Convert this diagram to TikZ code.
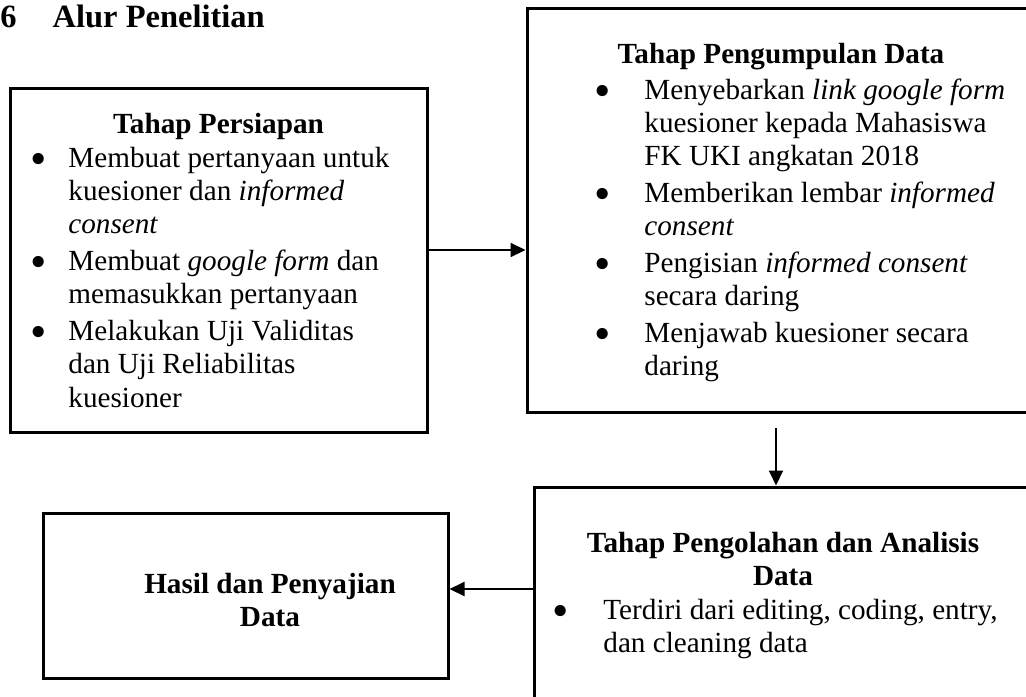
\documentclass[tikz,border=0pt]{standalone}
\usepackage{fontspec}
\setmainfont{Liberation Serif}
\usetikzlibrary{arrows.meta}
\usetikzlibrary{positioning}

\newcommand{\bodysize}{\fontsize{14.6pt}{16.65pt}\selectfont}
\newcommand{\bul}{\hspace{-1.5pt}\raisebox{-3.6pt}{\scalebox{1.6}{\textbullet}}}

\begin{document}
\begin{tikzpicture}[x=0.5pt,y=-0.5pt,
    stage box/.style={rectangle,draw,line width=1.5pt,inner sep=0pt},
    head text/.style={inner sep=0pt,anchor=base,font=\bodysize\bfseries},
    list text/.style={inner sep=0pt,anchor=base west,font=\bodysize},
    flow/.style={-{Triangle[length=7.5pt,width=7pt]},line width=1pt}]
  \useasboundingbox (0,0) rectangle (1026,696);
  \clip (0,0) rectangle (1026,696);
  \node[inner sep=0pt,anchor=base west,font=\fontsize{16.25pt}{19pt}\selectfont\bfseries] (title) at (0,27) {6\hspace{18pt}Alur Penelitian};
  % boxes
  \node[stage box,minimum width=208.5pt,minimum height=172pt] (prep) at (218.5,260) {};
  \node[stage box,minimum width=254pt,minimum height=202pt] (collect) at (781,210) {};
  \node[stage box,minimum width=249pt,minimum height=116.5pt] (process) at (783,603.5) {};
  \node[stage box,minimum width=202.5pt,minimum height=82.5pt] (result) at (245.5,595.5) {};
  % texts
  \node[head text] (prephead) at (218.5,133) {Tahap Persiapan};
  \node[list text] (preplist) at (33,167) {\begin{tabular}[t]{@{}p{17.5pt}@{}l@{}}
    \bul & Membuat pertanyaan untuk\\
     & kuesioner dan \textit{informed}\\
     & \textit{consent}\\[1.75pt]
    \bul & Membuat \textit{google form} dan\\
     & memasukkan pertanyaan\\[1.75pt]
    \bul & Melakukan Uji Validitas\\
     & dan Uji Reliabilitas\\
     & kuesioner
  \end{tabular}};
  \node[head text] (collecthead) at (781,63) {Tahap Pengumpulan Data};
  \node[list text] (collectlist) at (597,99) {\begin{tabular}[t]{@{}p{23.5pt}@{}l@{}}
    \bul & Menyebarkan \textit{link google form}\\
     & kuesioner kepada Mahasiswa\\
     & FK UKI angkatan 2018\\[1.75pt]
    \bul & Memberikan lembar \textit{informed}\\
     & \textit{consent}\\[1.75pt]
    \bul & Pengisian \textit{informed consent}\\
     & secara daring\\[1.75pt]
    \bul & Menjawab kuesioner secara\\
     & daring
  \end{tabular}};
  \node[head text] (processhead) at (783,552) {\begin{tabular}[t]{@{}c@{}}Tahap Pengolahan dan Analisis\\Data\end{tabular}};
  \node[list text] (processlist) at (555,619) {\begin{tabular}[t]{@{}p{24pt}@{}l@{}}
    \bul & Terdiri dari editing, coding, entry,\\
     & dan cleaning data
  \end{tabular}};
  \node[head text] (resulthead) at (270,593) {\begin{tabular}[t]{@{}c@{}}Hasil dan Penyajian\\Data\end{tabular}};
  % arrows
  \coordinate (gap) at (776,428);
  \draw[flow] ([yshift=5pt]prep.east) -- ([yshift=5pt]prep.east -| collect.west);
  \draw[flow] (gap) -- (gap |- process.north);
  \draw[flow] ([yshift=7.25pt]process.west) -- ([yshift=7.25pt]process.west -| result.east);
\end{tikzpicture}
\end{document}
